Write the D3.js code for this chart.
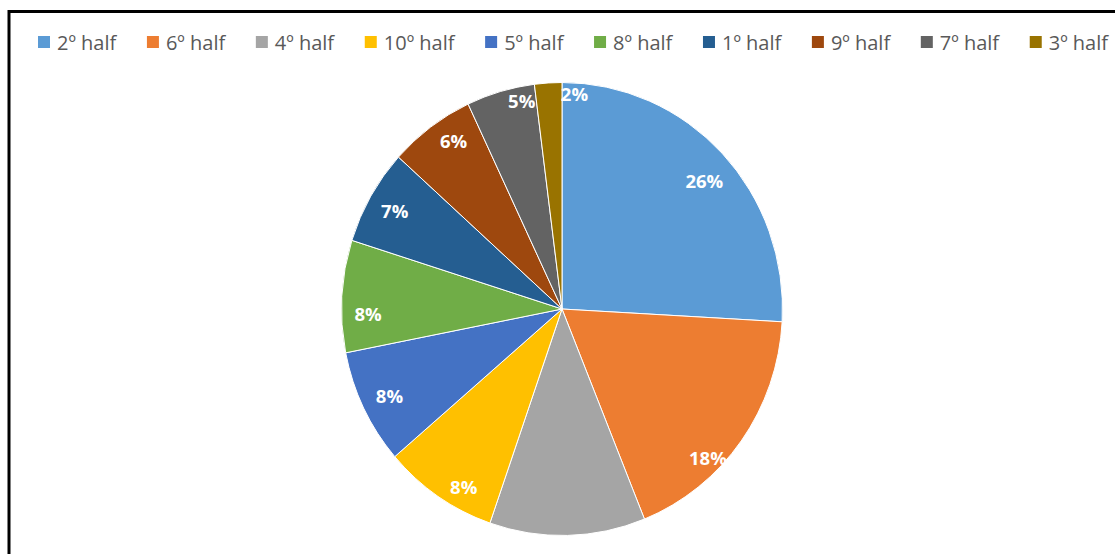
<!DOCTYPE html>
<html>
<head>
<meta charset="utf-8">
<script src="https://cdn.jsdelivr.net/npm/d3@7"></script>
<style>
  html, body { margin: 0; padding: 0; background: #fff; }
  svg { display: block; }
</style>
</head>
<body>
<svg id="chart" width="1115" height="554"></svg>
<script>
// ---- data ----
const categories = ["2º half", "6º half", "4º half", "10º half", "5º half", "8º half", "1º half", "9º half", "7º half", "3º half"];
const values     = [25.9, 18.0, 11.4, 8.4, 8.2, 8.0, 6.8, 6.3, 5.0, 2.0];
const labels     = ["26%", "18%", "", "8%", "8%", "8%", "7%", "6%", "5%", "2%"];
const colors     = ["#5B9BD5", "#ED7D31", "#A5A5A5", "#FFC000", "#4472C4", "#70AD47", "#255E91", "#9E480E", "#636363", "#997300"];

// ---- layout ----
const W = 1115, H = 554;
const cx = 562, cy = 309, rx = 220.5, ry = 226.5;
// label placement tweaks (degrees shift, radius fraction), mimicking Excel best-fit
const labelTweak = {
  "2º half": [2, 0.86], "6º half": [9, 0.93], "10º half": [-4.5, 0.90],
  "5º half": [0, 0.87], "8º half": [-4.5, 0.88], "1º half": [0, 0.875],
  "9º half": [3, 0.89], "7º half": [5, 0.94], "3º half": [7, 0.955]
};

const svg = d3.select("#chart");

// frame
svg.append("rect")
  .attr("x", 9).attr("y", 11.5)
  .attr("width", W + 20).attr("height", H + 20)
  .attr("fill", "#fff").attr("stroke", "#000").attr("stroke-width", 3);

const data = categories.map((c, i) => ({ cat: c, value: values[i], label: labels[i], color: colors[i] }));
const color = d3.scaleOrdinal().domain(categories).range(colors);

const pie = d3.pie().sort(null).value(d => d.value);
const arcs = pie(data);
const arc = d3.arc().innerRadius(0).outerRadius(rx);

const g = svg.append("g")
  .attr("transform", `translate(${cx},${cy}) scale(1,${ry / rx})`);

g.selectAll("path.slice")
  .data(arcs)
  .join("path")
  .attr("class", "slice")
  .attr("d", arc)
  .attr("fill", d => color(d.data.cat))
  .attr("stroke", "#fff")
  .attr("stroke-width", 1)
  .attr("vector-effect", "non-scaling-stroke");

// data labels
svg.append("g").selectAll("text.lbl")
  .data(arcs.filter(d => d.data.label))
  .join("text")
  .attr("class", "lbl")
  .attr("transform", d => {
    const t = labelTweak[d.data.cat] || [0, 0.88];
    const a = (d.startAngle + d.endAngle) / 2 + t[0] * Math.PI / 180;
    const x = cx + t[1] * rx * Math.sin(a);
    const y = cy - t[1] * ry * Math.cos(a);
    return `translate(${x},${y})`;
  })
  .attr("text-anchor", "middle")
  .attr("dominant-baseline", "central")
  .attr("font-family", "'Open Sans', sans-serif")
  .attr("font-weight", 700)
  .attr("font-size", 18.5)
  .attr("fill", "#fff")
  .text(d => d.data.label);

// legend: items spread between x0 and x1
const legend = svg.append("g").attr("class", "legend");
const x0 = 38, x1 = 1108, ly = 42, sw = 12, tgap = 7;
const items = categories.map(c => {
  const it = legend.append("g");
  const r = it.append("rect").attr("width", sw).attr("height", sw).attr("y", ly - 6).attr("fill", color(c));
  const t = it.append("text")
    .attr("y", ly)
    .attr("dominant-baseline", "central")
    .attr("font-family", "'Open Sans', sans-serif")
    .attr("font-size", 20)
    .attr("fill", "#595959")
    .text(c);
  return { r, t, w: t.node().getComputedTextLength() };
});
const used = d3.sum(items, d => sw + tgap + d.w);
const gap = (x1 - x0 - used) / (items.length - 1);
let lx = x0;
items.forEach(d => {
  d.r.attr("x", lx);
  d.t.attr("x", lx + sw + tgap);
  lx += sw + tgap + d.w + gap;
});
</script>
</body>
</html>
